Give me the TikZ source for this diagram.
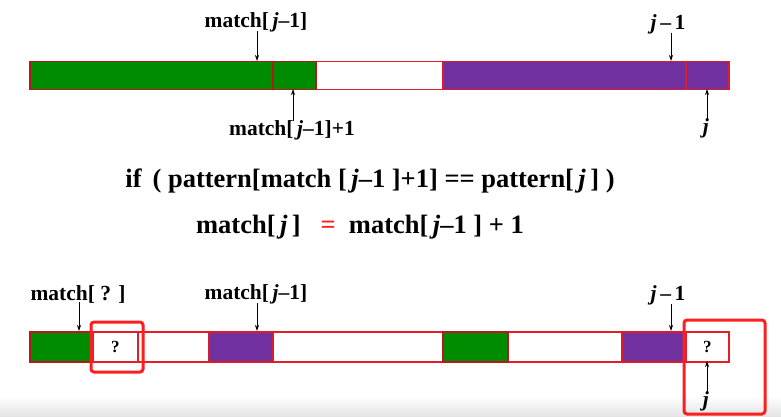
\documentclass[tikz,border=0pt]{standalone}
\usepackage{fontspec}
\setmainfont{Liberation Serif}
\usetikzlibrary{positioning, arrows.meta, calc}
\definecolor{cellgreen}{RGB}{0,140,0}
\definecolor{cellpurple}{RGB}{112,48,160}
\definecolor{cellred}{RGB}{228,30,40}
\definecolor{markred}{RGB}{255,30,30}
\tikzset{
    cell/.style={rectangle, draw=cellred, line width=1.5pt, minimum height=28, inner sep=0pt, anchor=north west, font=\bfseries\fontsize{17}{17}\selectfont},
    greencell/.style={cell, fill=cellgreen, draw=cellred!80!black},
    purplecell/.style={cell, fill=cellpurple, draw=cellred!95!black},
    lbl/.style={font=\bfseries\fontsize{21.5}{21.5}\selectfont, inner sep=1pt},
    ptr/.style={-{Stealth[length=6pt, width=4pt]}, line width=0.8pt, black},
    hilite/.style={draw=markred, line width=3pt, rounded corners=3pt},
    stmt/.style={font=\bfseries\fontsize{26.5}{26.5}\selectfont}
}
\newcommand{\jj}{\textit{j}}
\begin{document}
\begin{tikzpicture}[x=1pt, y=-1pt]
\useasboundingbox (0,0) rectangle (781,417);
\shade[top color=white, bottom color=gray!22] (0,396) rectangle (781,417);

% Upper array
\node[cell, minimum width=699] (top) at (29,61) {};
\node[greencell, minimum width=243] (tg1) at (29,61) {};
\node[greencell, minimum width=43] (tg2) at (272,61) {};
\node[purplecell, minimum width=243] (tp1) at (442,61) {};
\node[purplecell, minimum width=43] (tp2) at (685,61) {};

% Pointers to the upper array
\node[lbl] (lmj) at (256,22) {match[\,\jj–1]};
\node[lbl] (lmj1) at (292,130) {match[\,\jj–1]+1};
\node[lbl] (ljm) at (668,24) {\jj\,–\,1};
\node[lbl] (lj) at (706,128) {\jj};
\coordinate (amj) at (257,61);
\coordinate (amj1) at (293,89);
\coordinate (ajm) at (671,61);
\coordinate (aj) at (707,89);
\draw[ptr] (lmj.south -| amj) ++(0,-2) -- (amj);
\draw[ptr] (lmj1.north -| amj1) ++(0,2) -- (amj1);
\draw[ptr] (ljm.south -| ajm) ++(0,-2) -- (ajm);
\draw[ptr] (lj.north -| aj) ++(0,2) -- (aj);

% Rule
\node[stmt] (cond) at (370,181) {if\, ( pattern[match [\,\jj–1 ]+1] == pattern[\,\jj\,] )};
\node[stmt] (assign) at (360,227) {match[\,\jj\,] \ \ {\color{markred}=}\ \ match[\,\jj–1 ] + 1};

% Lower array
\node[cell, minimum width=699, minimum height=30] (bot) at (29,331) {};
\node[greencell, minimum width=63, minimum height=30] (bg1) at (29,331) {};
\node[cell, minimum width=45, minimum height=30] (bq1) at (92,331) {?};
\node[purplecell, minimum width=64, minimum height=30] (bp1) at (208,331) {};
\node[greencell, minimum width=65, minimum height=30] (bg2) at (442,331) {};
\node[purplecell, minimum width=64, minimum height=30] (bp2) at (621,331) {};
\node[cell, minimum width=43, minimum height=30] (bq2) at (685,331) {?};

% Pointers to the lower array
\node[lbl] (lmq) at (78,294) {match[ ? ]};
\node[lbl] (lmj2) at (256,294) {match[\,\jj–1]};
\node[lbl] (ljm2) at (668,295) {\jj\,–\,1};
\node[lbl] (lj2) at (706,401) {\jj};
\coordinate (amq) at (79,331);
\coordinate (amj2) at (257,331);
\coordinate (ajm2) at (671,331);
\coordinate (aj2) at (707,361);
\draw[ptr] (lmq.south -| amq) ++(0,-2) -- (amq);
\draw[ptr] (lmj2.south -| amj2) ++(0,-2) -- (amj2);
\draw[ptr] (ljm2.south -| ajm2) ++(0,-2) -- (ajm2);
\draw[ptr] (lj2.north -| aj2) ++(0,2) -- (aj2);

% Highlights
\draw[hilite] (91,322) rectangle (143,372);
\draw[hilite] (684,320) rectangle (765,414);
\end{tikzpicture}
\end{document}
